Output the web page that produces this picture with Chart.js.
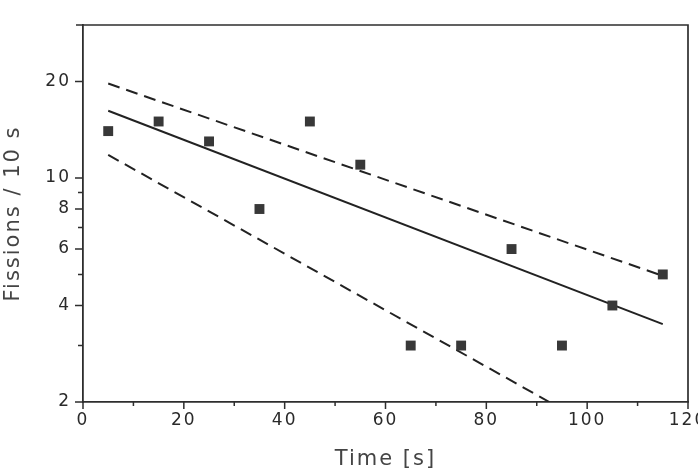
<!DOCTYPE html>
<html>
<head>
<meta charset="utf-8">
<script src="https://cdn.jsdelivr.net/npm/chart.js@4"></script>
<style>
  html, body { margin: 0; padding: 0; background: #fff; }
  #wrap { width: 698px; height: 472px; }
</style>
</head>
<body>
<div id="wrap"><canvas id="fissionChart"></canvas></div>
<script>
// measured counts, 10 s bins
const times = [5, 15, 25, 35, 45, 55, 65, 75, 85, 95, 105, 115];
const counts = [14, 15, 13, 8, 15, 11, 3, 3, 6, 3, 4, 5];

// exponential fit and its error band (straight on log axis)
const fitX = [5, 115];
const fitY = [16.2, 3.5];
const upperX = [5, 115];
const upperY = [19.7, 4.95];
const lowerX = [5, 92.5];
const lowerY = [11.8, 2];

// axis ticks
const xTicks = [0, 20, 40, 60, 80, 100, 120];
const xMinor = [10, 30, 50, 70, 90, 110];
const yTicks = [2, 4, 6, 8, 10, 20];
const yMinor = [3, 5, 7, 9];

const ink = '#2e2e2e';

function pairs(xs, ys) {
    return xs.map((x, i) => ({ x: x, y: ys[i] }));
}

// tick marks + top/right frame
const framePlugin = {
    id: 'frame',
    beforeDraw(chart) {
        chart.ctx.letterSpacing = '2px';
    },
    afterDraw(chart) {
        const ctx = chart.ctx;
        const area = chart.chartArea;
        const xs = chart.scales.x, ys = chart.scales.y;
        ctx.save();
        ctx.strokeStyle = ink;
        ctx.lineWidth = 1.7;
        ctx.beginPath();
        ctx.moveTo(area.left - 7, area.top);
        ctx.lineTo(area.right, area.top);
        ctx.lineTo(area.right, area.bottom);
        ctx.stroke();

        ctx.lineWidth = 1.5;
        ctx.beginPath();
        xTicks.forEach(v => {
            const px = xs.getPixelForValue(v);
            ctx.moveTo(px, area.bottom);
            ctx.lineTo(px, area.bottom + 7);
        });
        xMinor.forEach(v => {
            const px = xs.getPixelForValue(v);
            ctx.moveTo(px, area.bottom);
            ctx.lineTo(px, area.bottom + 4);
        });
        yTicks.forEach(v => {
            const py = ys.getPixelForValue(v);
            ctx.moveTo(area.left, py);
            ctx.lineTo(area.left - 8, py);
        });
        yMinor.forEach(v => {
            const py = ys.getPixelForValue(v);
            ctx.moveTo(area.left, py);
            ctx.lineTo(area.left - 5, py);
        });
        ctx.stroke();
        ctx.restore();
    }
};

new Chart(document.getElementById('fissionChart'), {
    type: 'scatter',
    data: {
        datasets: [{
            label: 'Counts',
            data: pairs(times, counts),
            pointStyle: 'rect',
            pointRadius: 7,
            pointHoverRadius: 7,
            backgroundColor: '#383838',
            borderColor: '#383838',
            borderWidth: 0,
            order: 0
        }, {
            label: 'Fit',
            data: pairs(fitX, fitY),
            showLine: true,
            pointRadius: 0,
            borderColor: '#222',
            borderWidth: 2,
            order: 1
        }, {
            label: 'Upper',
            data: pairs(upperX, upperY),
            showLine: true,
            pointRadius: 0,
            borderColor: '#222',
            borderWidth: 2,
            borderDash: [12, 7],
            order: 2
        }, {
            label: 'Lower',
            data: pairs(lowerX, lowerY),
            showLine: true,
            pointRadius: 0,
            borderColor: '#222',
            borderWidth: 2,
            borderDash: [12, 7],
            order: 3
        }]
    },
    options: {
        responsive: true,
        maintainAspectRatio: false,
        animation: false,
        layout: {
            padding: { top: 25, right: 10, left: 0, bottom: 0 }
        },
        scales: {
            x: {
                type: 'linear',
                min: 0,
                max: 120,
                grid: { display: false, drawTicks: false },
                border: { display: true, color: ink, width: 1.8 },
                afterBuildTicks: scale => {
                    scale.ticks = xTicks.map(v => ({ value: v }));
                },
                afterFit: scale => {
                    scale.height = 70;
                    scale.paddingLeft = 0;
                    scale.paddingRight = 0;
                },
                ticks: {
                    autoSkip: false,
                    maxRotation: 0,
                    padding: 8,
                    color: '#2a2a2a',
                    font: { family: 'DejaVu Sans', size: 17 }
                },
                title: {
                    display: true,
                    text: 'Time [s]',
                    color: '#444',
                    padding: { top: 5, bottom: 0 },
                    font: { family: 'DejaVu Sans', size: 21 }
                }
            },
            y: {
                type: 'logarithmic',
                min: 2,
                max: 30,
                grid: { display: false, drawTicks: false },
                border: { display: true, color: ink, width: 1.8 },
                afterBuildTicks: scale => {
                    scale.ticks = yTicks.map(v => ({ value: v }));
                },
                afterFit: scale => {
                    scale.width = 83;
                    scale.paddingTop = 0;
                    scale.paddingBottom = 0;
                },
                ticks: {
                    padding: 12,
                    color: '#2a2a2a',
                    font: { family: 'DejaVu Sans', size: 17 },
                    callback: value => String(value)
                },
                title: {
                    display: true,
                    text: 'Fissions / 10 s',
                    color: '#444',
                    padding: { top: 1, bottom: 0 },
                    font: { family: 'DejaVu Sans', size: 21 }
                }
            }
        },
        plugins: {
            legend: { display: false },
            tooltip: { enabled: false }
        }
    },
    plugins: [framePlugin]
});
</script>
</body>
</html>
